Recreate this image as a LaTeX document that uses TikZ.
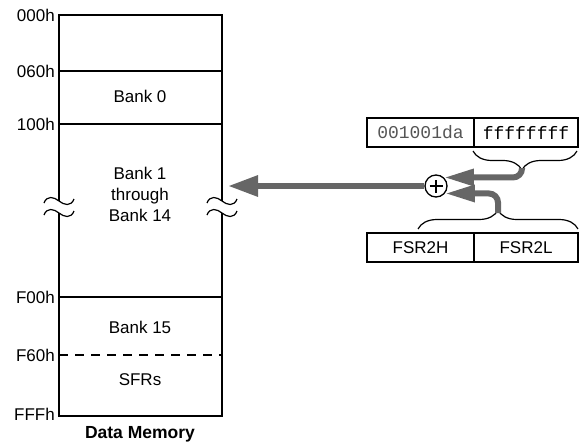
\documentclass[tikz,border=0pt]{standalone}
\usepackage{fontspec}
\setmainfont{Liberation Sans}
\setmonofont{Liberation Mono}
\usetikzlibrary{arrows.meta,decorations.pathreplacing}
\definecolor{busgray}{RGB}{102,102,102}
\definecolor{hexgray}{RGB}{85,85,85}
\tikzset{
  memline/.style={line width=1.8pt},
  addr/.style={anchor=east, inner sep=2pt},
  regcell/.style={draw, line width=1.5pt, minimum height=29pt, inner sep=0pt, outer sep=0pt, anchor=north west},
  hexcell/.style={regcell, font=\fontsize{18}{20}\selectfont\ttfamily},
  regbrace/.style={decorate, decoration={brace, amplitude=19pt, aspect=#1}, line width=1.2pt},
  regbrace/.default=0.5,
  bus/.style={draw=busgray, line width=6pt, -{Triangle[length=30pt,width=20pt]}},
  feed/.style={draw=busgray, line width=6pt, rounded corners=9pt, -{Triangle[length=30pt,width=16pt]}},
}
\begin{document}
\begin{tikzpicture}[x=1pt, y=-1pt, font=\fontsize{17}{21}\selectfont]
  \useasboundingbox (0,0) rectangle (586,442);
  % data memory
  \draw[memline] (59,15) rectangle (222,416);
  \draw[memline] (59,71) -- (222,71);
  \draw[memline] (59,124) -- (222,124);
  \draw[memline] (59,297) -- (222,297);
  \draw[memline, dash pattern=on 9pt off 7pt] (59,355) -- (222,355);
  \foreach \y/\a in {15/000h, 71/060h, 124/100h, 297/F00h, 355/F60h, 414/FFFh}
    \node[addr] (a\a) at (57,\y) {\a};
  \node (bank0) at (140,96) {Bank 0};
  \node[align=center] (bankmid) at (140,194) {Bank 1\\through\\Bank 14};
  \node (bank15) at (140,327) {Bank 15};
  \node (sfrs) at (140,380) {SFRs};
  \node[font=\fontsize{17.5}{21}\selectfont\bfseries] (title) at (140,434) {Data Memory};
  % breaks
  \foreach \cx in {59,222} {
    \fill[white] (\cx-15,203) .. controls (\cx-12,195) and (\cx-5,197) .. (\cx,201)
      .. controls (\cx+5,205) and (\cx+12,207) .. (\cx+15,199)
      -- (\cx+15,211) .. controls (\cx+12,219) and (\cx+5,217) .. (\cx,213)
      .. controls (\cx-5,209) and (\cx-12,207) .. (\cx-15,215) -- cycle;
    \draw[line width=1.2pt] (\cx-15,203) .. controls (\cx-12,195) and (\cx-5,197) .. (\cx,201)
      .. controls (\cx+5,205) and (\cx+12,207) .. (\cx+15,199);
    \draw[line width=1.2pt] (\cx-15,215) .. controls (\cx-12,207) and (\cx-5,209) .. (\cx,213)
      .. controls (\cx+5,217) and (\cx+12,219) .. (\cx+15,211);
  }
  % registers
  \node[hexcell, minimum width=107pt, text=hexgray] (hexhi) at (367,118) {001001da};
  \node[hexcell, minimum width=104pt] (hexlo) at (hexhi.north east) {ffffffff};
  \node[regcell, minimum width=107pt] (fsrh) at (367,233) {FSR2H};
  \node[regcell, minimum width=104pt] (fsrl) at (fsrh.north east) {FSR2L};
  \draw[regbrace=0.53] (577,151) -- (473,151);
  \draw[regbrace] (418,229) -- (578,229);
  \coordinate (hexin) at (522,168);
  \coordinate (fsrin) at (498,213);
  \coordinate (bankin) at (228,186);
  % adder
  \node[draw, circle, minimum size=22pt, inner sep=0pt, line width=1.3pt, fill=white] (sum) at (436,186) {};
  \draw[bus] (sum) -- (bankin);
  \draw[feed] (hexin) |- (sum.47);
  \draw[feed] (fsrin) |- (sum.-40);
  \draw[line width=2.6pt] ([xshift=-6.5pt]sum.center) -- ([xshift=6.5pt]sum.center)
    ([yshift=-6.5pt]sum.center) -- ([yshift=6.5pt]sum.center);
\end{tikzpicture}
\end{document}
